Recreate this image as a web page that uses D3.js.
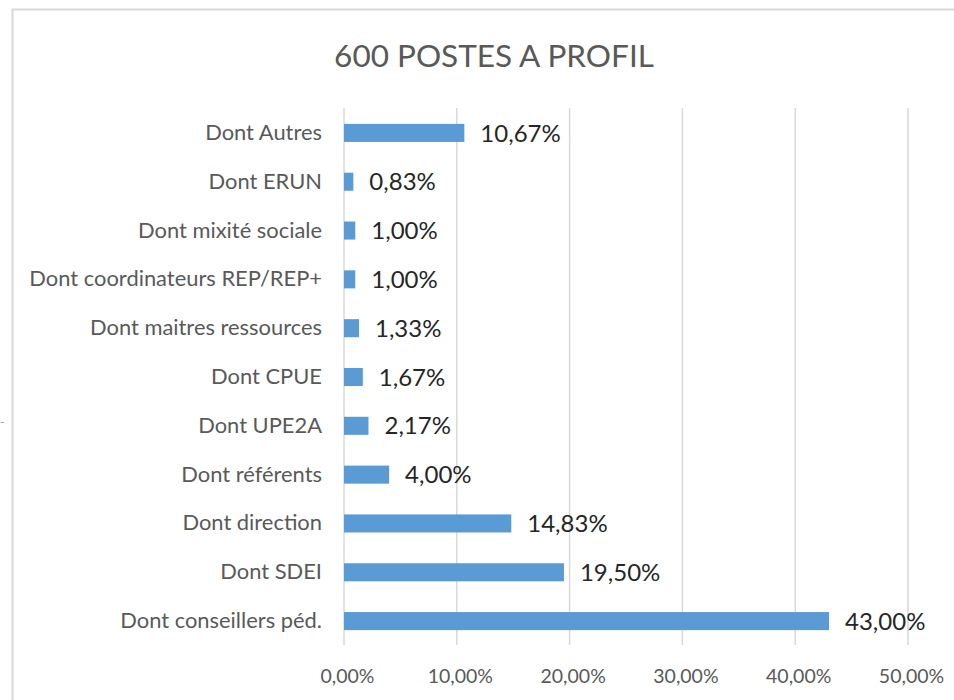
<!DOCTYPE html>
<html><head><meta charset="utf-8">
<script src="https://cdn.jsdelivr.net/npm/d3@7"></script>
<style>body{margin:0;background:#fff;}svg{display:block;}</style>
</head><body>
<script>
const categories = ["Dont Autres","Dont ERUN","Dont mixité sociale","Dont coordinateurs REP/REP+","Dont maitres ressources","Dont CPUE","Dont UPE2A","Dont référents","Dont direction","Dont SDEI","Dont conseillers péd."];
const values = [10.67,0.83,1.00,1.00,1.33,1.67,2.17,4.00,14.83,19.50,43.00];
const tickValues = [0,10,20,30,40,50];
const title = "600 POSTES A PROFIL";

const W = 954, H = 700;
const svg = d3.select("body").append("svg").attr("width", W).attr("height", H);
const font = "Lato, 'Open Sans', sans-serif";

svg.append("rect").attr("x",12.5).attr("y",9.5).attr("width",W).attr("height",H)
  .attr("fill","#fff").attr("stroke","#d9d9d9").attr("stroke-width",2);

const x = d3.scaleLinear().domain([0,50]).range([344,908]);
const y = d3.scaleBand().domain(categories).range([108.5,645.5]).paddingInner(0.63).paddingOuter(0.315);

svg.append("text").attr("x",494).attr("y",67).attr("text-anchor","middle")
  .attr("font-family",font).attr("font-size",31.5).attr("fill","#595959").text(title);

const grid = svg.append("g");
grid.selectAll("line").data(tickValues).join("line")
  .attr("x1",d=>x(d)).attr("x2",d=>x(d)).attr("y1",108).attr("y2",645)
  .attr("stroke","#d9d9d9").attr("stroke-width",1.5);

const xAxis = svg.append("g").attr("transform","translate(3,645)")
  .call(d3.axisBottom(x).tickValues(tickValues).tickSize(0).tickPadding(24)
    .tickFormat(d=>d.toFixed(2).replace(".",",")+"%"));
xAxis.select(".domain").remove();
xAxis.selectAll("text").attr("font-family",font).attr("font-size",19.5).attr("fill","#595959");

const yAxis = svg.append("g").attr("transform","translate(344,0)")
  .call(d3.axisLeft(y).tickSize(0).tickPadding(22));
yAxis.select(".domain").remove();
yAxis.selectAll("text").attr("font-family",font).attr("font-size",21.9).attr("fill","#595959");

svg.append("g").selectAll("rect").data(categories).join("rect")
  .attr("x",x(0)).attr("y",d=>y(d)).attr("width",(d,i)=>x(values[i])-x(0)).attr("height",y.bandwidth())
  .attr("fill","#5b9bd5");

svg.append("g").selectAll("text").data(categories).join("text")
  .attr("x",(d,i)=>x(values[i])+16).attr("y",d=>y(d)+y.bandwidth()/2).attr("dy","0.36em")
  .attr("font-family",font).attr("font-size",24).attr("fill","#262626")
  .text((d,i)=>values[i].toFixed(2).replace(".",",")+"%");

svg.append("text").attr("x",0).attr("y",426).attr("font-family",font).attr("font-size",12).attr("fill","#999").text("-");
</script>
</body></html>
